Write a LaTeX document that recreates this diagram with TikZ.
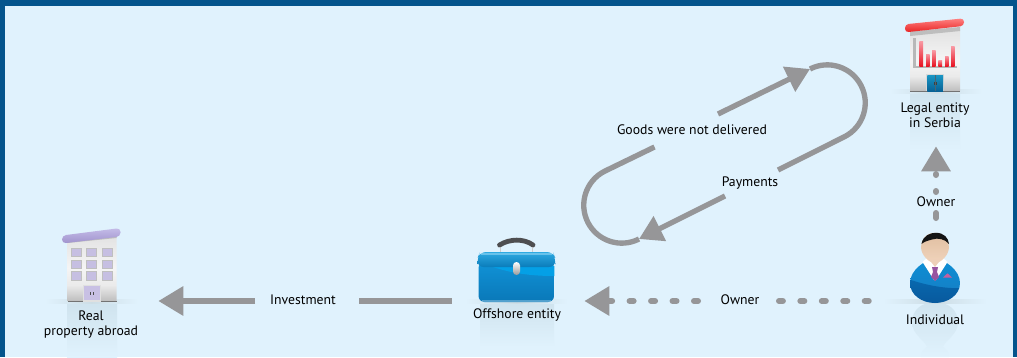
\documentclass[tikz,border=0pt]{standalone}
\usepackage{fontspec}
\setmainfont{PT Sans}
\usetikzlibrary{arrows.meta}
\definecolor{frameblue}{HTML}{04548C}
\definecolor{bgblue}{HTML}{E0F2FD}
\definecolor{conn}{HTML}{969698}
\definecolor{refl}{HTML}{CFE3EE}
\definecolor{gshadow}{HTML}{CDDDE5}
\definecolor{wallgray}{HTML}{E2E2E2}
\definecolor{basegray}{HTML}{BEBEBE}
\pgfdeclareverticalshading{bldg}{100bp}{color(0bp)=(basegray); color(25bp)=(basegray); color(37bp)=(white!92!black); color(50bp)=(white!96!black); color(75bp)=(wallgray); color(100bp)=(wallgray)}
\tikzset{
  lbl/.style={font=\fontsize{10.3pt}{11.2pt}\selectfont, text=black, inner sep=0pt, align=center},
  iconbox/.style={minimum width=#1, minimum height=0pt, inner sep=0pt},
  solidconn/.style={draw=conn, line width=4.5pt},
  dotconn/.style={draw=conn, line width=4.5pt, line cap=round},
  loopconn/.style={draw=conn, line width=4pt},
  bighead/.style={-{Triangle[length=18.75pt,width=21pt,fill=conn]}},
  loophead/.style={-{Triangle[length=17.5pt,width=20pt,fill=conn]}},
  groundshadow/.style={left color=bgblue, right color=bgblue, middle color=gshadow, draw=none},
  mirror/.style={top color=refl, bottom color=bgblue, draw=none},
  wall/.style={shading=bldg, draw=none},
}
\begin{document}
\begin{tikzpicture}[x=0.75pt,y=-0.75pt]
\useasboundingbox (0,0) rectangle (1017,357);
\fill[frameblue] (0,0) rectangle (1017,357);
\fill[bgblue] (5,6) rectangle (1013,357);

% ---------- reflections and ground shadows
\shade[mirror] (67,302) rectangle (117,357);
\shade[groundshadow] (45,299.5) rectangle (138,303);
\shade[mirror] (480,302) rectangle (554,347);
\shade[groundshadow] (465,299.5) rectangle (568,303);
\shade[mirror] (910,92) rectangle (960,150);
\shade[groundshadow] (890,89.5) rectangle (982,93.5);
\shade[mirror] (935,302) .. controls (948,302) and (958,310) .. (958,322) .. controls (958,335) and (945,340) .. (943,347) .. controls (948,350) and (949,354) .. (949,357) -- (921,357) .. controls (921,354) and (922,350) .. (927,347) .. controls (925,340) and (912,335) .. (912,322) .. controls (912,310) and (922,302) .. (935,302) -- cycle;
\shade[groundshadow] (883,299.5) rectangle (987,303);

% ---------- real property building
\shade[wall] (67.5,240) -- (116.5,235) -- (116.5,301) -- (67.5,301) -- cycle;
\fill[basegray] (67.5,240) -- (116.5,235) -- (116.5,238) -- (67.5,243) -- cycle;
\fill[black!55] (67.5,300.7) rectangle (116.5,302);
\foreach \wx in {71.3,86.7,102}{
  \foreach \wy in {248.3,260,271.7}{
    \fill[fill={rgb,255:red,198;green,191;blue,226}, draw=black!25, line width=0.4pt] (\wx,\wy) rectangle ++(10,8.4);
  }
}
\fill[fill={rgb,255:red,200;green,192;blue,228}, draw=black!12, line width=0.8pt] (83.3,285.5) rectangle (100.7,301);
\fill[black!70] (90.2,292) rectangle (91,295);
\fill[black!70] (92.6,292) rectangle (93.4,295);
\shade[top color={rgb,255:red,196;green,188;blue,232}, bottom color={rgb,255:red,160;green,146;blue,204}, rounded corners=3pt]
  (62,235.5) -- (120.5,228) -- (120.5,236.5) -- (62,243.5) -- cycle;
\node[iconbox=100.5pt] (real) at (91,301) {};

% ---------- toolbox
\draw[black!20, line width=0.7pt] (500,246) -- (500,252) (532,246) -- (532,252);
\draw[draw={rgb,255:red,78;green,78;blue,80}, line width=3.6pt, line cap=round] (499.5,245) .. controls (510,238.5) and (524,238.5) .. (533,245);
\shade[top color={rgb,255:red,16;green,146;blue,214}, bottom color={rgb,255:red,10;green,120;blue,184}, rounded corners=4.5pt]
  (478.5,262) -- (554,262) -- (554,302) -- (478.5,302) -- cycle;
\fill[fill={rgb,255:red,4;green,160;blue,230}] (490,266) .. controls (510,273) and (530,276) .. (554.3,276) -- (554.3,266) -- cycle;
\shade[top color={rgb,255:red,46;green,170;blue,226}, bottom color={rgb,255:red,10;green,124;blue,186}, rounded corners=4.5pt]
  (477.5,258) -- (480,252) -- (553,252) -- (555.2,258) -- (555.2,267) -- (477.5,267) -- cycle;
\fill[white!70!cyan, opacity=0.45] (481,253.2) rectangle (552,255);
\shade[top color=white, bottom color=black!40, rounded corners=2.6pt] (513,262) rectangle (520,275);
\fill[white, opacity=0.3] (482,300) rectangle (551,301.5);
\node[iconbox=99pt] (offshore) at (518,301) {};

% ---------- legal entity building
\shade[wall] (910,34) -- (960,29.5) -- (960,91) -- (910,91) -- cycle;
\fill[basegray] (910,31.5) -- (960,27) -- (960,31) -- (910,36) -- cycle;
\fill[black!55] (910,90.8) rectangle (960,92);
\fill[black!28] (913.3,38.3) rectangle (916,68.3);
\fill[black!28] (913.3,66) rectangle (956.7,68.3);
\foreach \bx/\btop in {919.3/41.7,926/54,932/50.7,938.3/60,945/56,951/46.7}{
  \shade[top color={rgb,255:red,248;green,150;blue,160}, bottom color={rgb,255:red,232;green,20;blue,34}] (\bx,\btop) rectangle (\bx+3.7,66);
}
\fill[white!85!black] (926.2,73.8) rectangle (944.4,91);
\shade[top color={rgb,255:red,26;green,150;blue,196}, bottom color={rgb,255:red,8;green,98;blue,150}] (927.4,75) rectangle (943.2,91);
\draw[black!35!cyan!60!black, line width=0.4pt] (935.3,75) -- (935.3,91);
\fill[black!75] (933.8,82) rectangle (934.6,84.6);
\fill[black!75] (936,82) rectangle (936.8,84.6);
\shade[top color={rgb,255:red,255;green,130;blue,130}, bottom color={rgb,255:red,232;green,34;blue,34}, rounded corners=2.7pt]
  (905,24.3) -- (964,18.3) -- (964,25.9) -- (905,32.4) -- cycle;
\node[iconbox=37.5pt] (legal) at (936,146) {};

% ---------- individual
\begin{scope}
\clip (935,258) .. controls (945,260) and (960,270) .. (960,283) .. controls (960,295) and (948,303) .. (935,303) .. controls (922,303) and (910,295) .. (910,283) .. controls (910,270) and (925,260) .. (935,258) -- cycle;
\shade[top color={rgb,255:red,12;green,144;blue,214}, bottom color={rgb,255:red,20;green,130;blue,200}] (908,256) rectangle (962,288);
\shade[top color={rgb,255:red,8;green,104;blue,174}, bottom color={rgb,255:red,8;green,88;blue,156}] (908,279) .. controls (925,285) and (945,289) .. (962,288) -- (962,305) -- (908,305) -- cycle;
\end{scope}
\fill[white] (928,257) -- (942,257) -- (947.5,262) -- (936,280) -- (934,280) -- (922.5,262) -- cycle;
\shade[top color={rgb,255:red,224;green,190;blue,160}, bottom color={rgb,255:red,240;green,212;blue,188}] (935,232.8) .. controls (944,232.8) and (949,240) .. (949,247) .. controls (949,255) and (941,263) .. (935,263) .. controls (929,263) and (921,255) .. (921,247) .. controls (921,240) and (926,232.8) .. (935,232.8) -- cycle;
\fill[fill={rgb,255:red,238;green,208;blue,184}] (928,258) -- (942,258) -- (935,267) -- cycle;
\fill[black!92] (921.5,244) .. controls (923,235) and (931,232.8) .. (936,232.8) .. controls (944,232.8) and (948.5,238) .. (949,244) .. controls (945,239) and (938,237.5) .. (932,239.5) .. controls (928,240.8) and (925,241) .. (921.5,244) -- cycle;
\fill[fill={rgb,255:red,152;green,84;blue,160}] (932,267) -- (938,267) -- (937,272) -- (939,277) -- (935,281) -- (931,277) -- (933,272) -- cycle;
\fill[fill={rgb,255:red,196;green,96;blue,160}] (943,277.5) -- (952,277.5) -- (947.5,273.3) -- cycle;
\node[iconbox=99pt] (individual) at (935,301) {};
\coordinate (individualtop) at (936,218);

% ---------- labels
\node[lbl] (reallabel) at (91,324.5) {Real\\property abroad};
\node[lbl] (offshorelabel) at (517,315) {Offshore entity};
\node[lbl] (individuallabel) at (935,320) {Individual};
\node[lbl] (legallabel) at (935,115) {Legal entity\\in Serbia};
\node[lbl] (investment) at (303,300) {Investment};
\node[lbl] (ownerh) at (740,300) {Owner};
\node[lbl] (ownerv) at (936,202) {Owner};
\node[lbl] (goods) at (692,130) {Goods were not delivered};
\node[lbl] (payments) at (750,183) {Payments};

% ---------- connector ends beside the labels
\coordinate (invright) at (359,301);
\coordinate (invleft) at (255,301);
\coordinate (ownhright) at (779,301);
\coordinate (ownhleft) at (698,301);
\coordinate (ownvlow) at (936,213);
\coordinate (ownvup) at (936,192);
\coordinate (goodsup) at (718,114);
\coordinate (goodslow) at (654.5,147);
\coordinate (payup) at (778,170);
\coordinate (paylow) at (725,196);
\coordinate (tipa) at (810,69);
\coordinate (tipb) at (639,239);

% ---------- connectors
\draw[solidconn] (offshore.west) -- (invright);
\draw[solidconn, bighead] (invleft) -- (real.east);
\draw[dotconn, dash pattern=on 3pt off 13.1pt] (individual.west) -- (ownhright);
\draw[dotconn, dash pattern=on 3pt off 13.1pt, bighead] (ownhleft) -- (offshore.east);
\draw[dotconn] (individualtop) -- (ownvlow);
\draw[dotconn, dash pattern=on 0.75pt off 12pt, bighead] (ownvup) -- (legal.south);
\draw[loopconn, loophead] (goodsup) -- (tipa);
\draw[loopconn] (tipa) arc[start angle=243, end angle=423, radius=38] -- (payup);
\draw[loopconn, loophead] (paylow) -- (tipb);
\draw[loopconn] (tipb) arc[start angle=63, end angle=243, radius=38] -- (goodslow);
\end{tikzpicture}
\end{document}
